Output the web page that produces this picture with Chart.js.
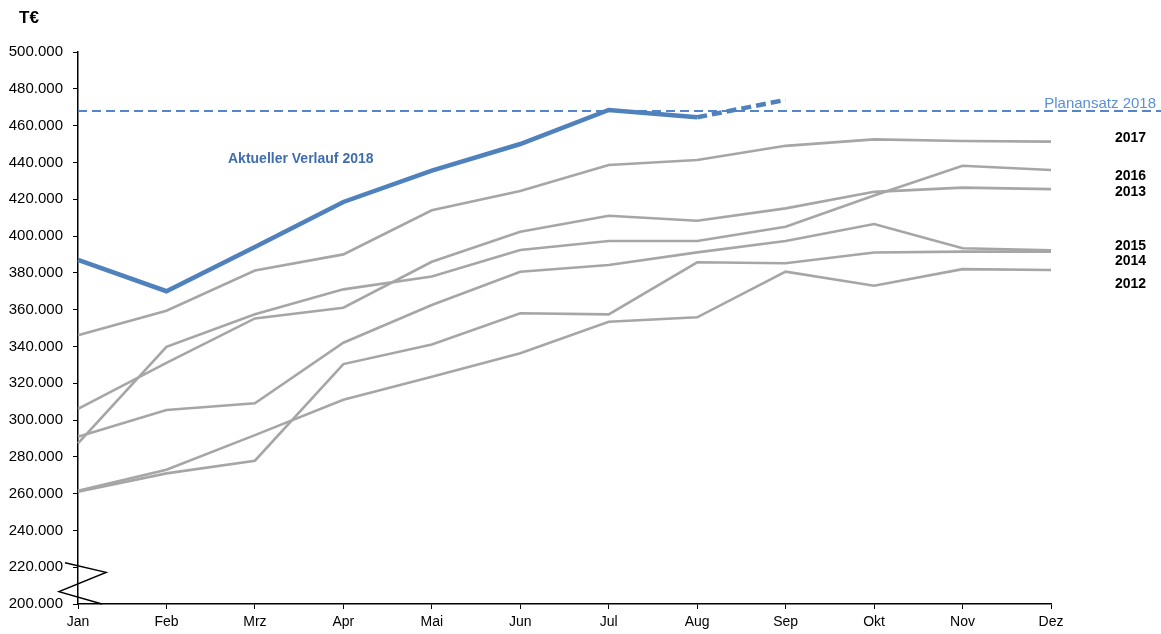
<!DOCTYPE html>
<html lang="de">
<head>
<meta charset="utf-8">
<title>Umsatzverlauf</title>
<script src="https://cdn.jsdelivr.net/npm/chart.js@4/dist/chart.umd.min.js"></script>
<style>
  html, body { margin: 0; padding: 0; background: #fff; }
  #wrap { position: relative; width: 1161px; height: 634px; }
</style>
</head>
<body>
<div id="wrap"><canvas id="chart" width="1161" height="634"></canvas></div>
<script>
// Monate und Werte in T€
const months = ['Jan', 'Feb', 'Mrz', 'Apr', 'Mai', 'Jun', 'Jul', 'Aug', 'Sep', 'Okt', 'Nov', 'Dez'];
const years = ['2012', '2013', '2014', '2015', '2016', '2017'];
const v2012 = [261500, 273000, 291800, 311000, 323500, 336300, 353400, 355800, 380600, 373000, 382000, 381500];
const v2013 = [306000, 331000, 355200, 361000, 386000, 402300, 411000, 408300, 415000, 424000, 426300, 425500];
const v2014 = [261000, 271000, 277900, 330400, 341000, 358000, 357400, 385700, 385200, 391000, 391500, 391500];
const v2015 = [290900, 305400, 309100, 342000, 362500, 380600, 384200, 391100, 397300, 406500, 393300, 392200];
const v2016 = [287300, 339800, 357500, 371000, 378000, 392400, 397300, 397300, 405000, 422000, 438200, 435900];
const v2017 = [346000, 359400, 381200, 390000, 414000, 424500, 438600, 441300, 449000, 452500, 451600, 451300];
const actual2018 = [387000, 370000, 394000, 418500, 435500, 450000, 468500, 464500, null, null, null, null];
const forecast2018 = [null, null, null, null, null, null, null, 464500, 474000, null, null, null];
const plan2018 = 468000;
const yTicks = { min: 200000, max: 500000, step: 20000 };

const FONT = '"Liberation Sans", Arial, sans-serif';
const grey = '#a6a6a6';
const blue = '#4f81bd';

const series = [v2012, v2013, v2014, v2015, v2016, v2017];
const greyDatasets = series.map((vals, i) => ({
    label: years[i],
    data: vals,
    borderColor: grey,
    borderWidth: 2.6,
    pointRadius: 0,
    tension: 0,
    order: 3
}));

// Beschriftungen, Planlinie und Achsenbruch
const overlay = {
    id: 'overlay',
    beforeDatasetsDraw(chart) {
        const { ctx, chartArea, scales: { y } } = chart;
        const py = y.getPixelForValue(plan2018);
        ctx.save();
        ctx.strokeStyle = '#5585c8';
        ctx.lineWidth = 2;
        ctx.setLineDash([9, 5]);
        ctx.beginPath();
        ctx.moveTo(chartArea.left, py);
        ctx.lineTo(chart.width, py);
        ctx.stroke();
        ctx.restore();
    },
    afterDraw(chart) {
        const { ctx, chartArea, scales: { y } } = chart;
        ctx.save();

        // Einheit
        ctx.fillStyle = '#000';
        ctx.font = 'bold 17px ' + FONT;
        ctx.textBaseline = 'middle';
        ctx.textAlign = 'left';
        ctx.fillText('T€', 19, 18);

        // Planansatz
        ctx.font = '15px ' + FONT;
        ctx.fillStyle = '#5b8fd6';
        ctx.textAlign = 'right';
        ctx.fillText('Planansatz 2018', 1156, y.getPixelForValue(plan2018) - 7);

        // Aktueller Verlauf
        ctx.font = 'bold 14px ' + FONT;
        ctx.fillStyle = '#3f6dad';
        ctx.textAlign = 'left';
        ctx.fillText('Aktueller Verlauf 2018', 228, y.getPixelForValue(441500));

        // Jahreslabels rechts
        const labelAt = { '2017': 453300, '2016': 432600, '2013': 423800, '2015': 394600, '2014': 386400, '2012': 374000 };
        ctx.font = 'bold 14px ' + FONT;
        ctx.fillStyle = '#000';
        Object.keys(labelAt).forEach(k => {
            ctx.fillText(k, 1115, y.getPixelForValue(labelAt[k]));
        });

        // Achsenbruch
        const l = chartArea.left;
        ctx.strokeStyle = '#000';
        ctx.lineWidth = 1.5;
        ctx.beginPath();
        ctx.moveTo(l - 13, y.getPixelForValue(222400));
        ctx.lineTo(l + 28, y.getPixelForValue(217200));
        ctx.lineTo(l - 19, y.getPixelForValue(206700));
        ctx.lineTo(l + 24, y.getPixelForValue(200000));
        ctx.stroke();
        ctx.restore();
    }
};

new Chart(document.getElementById('chart'), {
    type: 'line',
    data: {
        labels: months,
        datasets: [
            ...greyDatasets,
            {
                label: 'Prognose 2018',
                data: forecast2018,
                borderColor: blue,
                borderWidth: 4.5,
                borderDash: [10, 5],
                pointRadius: 0,
                order: 2
            },
            {
                label: 'Aktueller Verlauf 2018',
                data: actual2018,
                borderColor: blue,
                borderWidth: 4.5,
                pointRadius: 0,
                order: 1
            }
        ]
    },
    options: {
        responsive: false,
        animation: false,
        events: [],
        layout: { padding: { top: 52, right: 110, left: 0, bottom: 0 } },
        plugins: {
            legend: { display: false },
            tooltip: { enabled: false }
        },
        scales: {
            x: {
                offset: false,
                grid: { drawOnChartArea: false, drawTicks: true, tickLength: 5, color: '#000', lineWidth: 1 },
                border: { display: true, color: '#000', width: 1.5 },
                ticks: { color: '#000', font: { size: 14, family: FONT }, padding: 5, maxRotation: 0, autoSkip: false },
                afterFit(scale) { scale.height = 30; }
            },
            y: {
                min: yTicks.min,
                max: yTicks.max,
                grid: { drawOnChartArea: false, drawTicks: true, tickLength: 5, color: '#000', lineWidth: 1 },
                border: { display: true, color: '#000', width: 1.5 },
                ticks: {
                    stepSize: yTicks.step,
                    color: '#000',
                    font: { size: 15, family: FONT },
                    padding: 10,
                    callback: v => (v / 1000) + '.000'
                },
                afterFit(scale) { scale.width = 78; }
            }
        }
    },
    plugins: [overlay]
});
</script>
</body>
</html>
